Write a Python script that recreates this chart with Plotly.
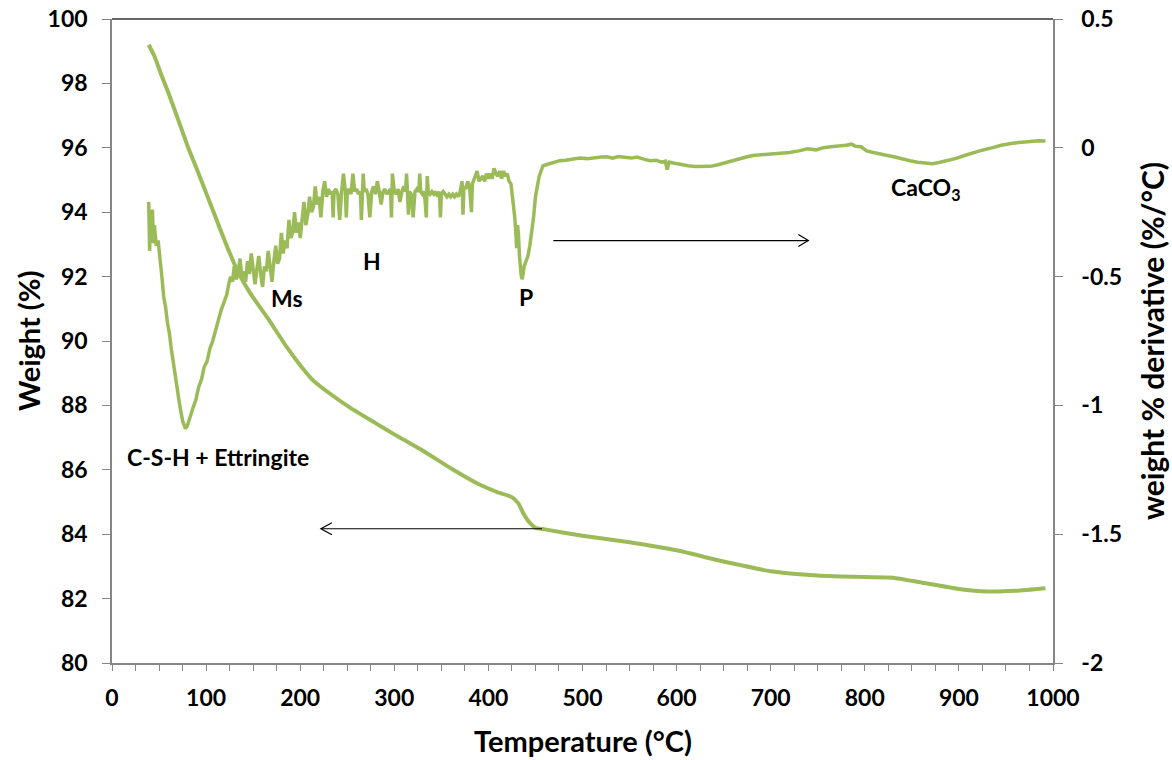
import plotly.graph_objects as go

# Thermogravimetric curve: temperature (°C) vs remaining weight (%)
tg_temp = [39, 45, 52, 60, 70, 81, 90, 100, 110, 120, 133, 147, 165, 186, 200, 214,
           230, 253, 280, 300, 330, 360, 390, 410, 425, 432, 438, 444, 450, 460, 500,
           550, 600, 650, 700, 750, 800, 830, 860, 900, 930, 960, 992]
tg_weight = [99.2, 98.85, 98.3, 97.7, 96.9, 96.0, 95.35, 94.6, 93.85, 93.1, 92.2,
             91.48, 90.73, 89.8, 89.25, 88.77, 88.4, 87.93, 87.45, 87.1, 86.6, 86.05,
             85.55, 85.3, 85.15, 84.95, 84.6, 84.35, 84.2, 84.15, 83.95, 83.75, 83.5,
             83.15, 82.85, 82.72, 82.67, 82.65, 82.5, 82.3, 82.22, 82.24, 82.32]

# Derivative curve: temperature (°C) vs d(weight)/dT (%/°C)
dtg_temp = [39, 40, 41, 42, 43, 44, 45, 47, 49, 51, 53, 55, 57, 59, 61, 63, 66, 69,
            72, 75, 78, 80, 83, 86, 89, 92, 95, 98, 101, 104, 107, 110, 113, 116,
            119, 122,
            124, 126, 128, 130, 132, 134, 136, 138, 140, 142, 144, 146, 148, 150,
            152, 154, 156, 158, 160, 162, 164, 166, 168, 170, 172, 174, 176, 178,
            180, 182, 184, 186, 188, 190, 192, 194, 196, 198, 200, 202, 204, 206,
            208, 210, 212, 214, 216, 218, 220, 222, 224, 226, 228, 230, 232, 234,
            235, 236, 238, 240, 242, 244, 246, 248, 249, 250, 252, 254, 256, 258,
            260, 262, 264, 265, 266, 267, 268, 270, 272, 274, 276, 278, 280, 282,
            284, 286, 288, 290, 292, 294, 296, 297, 298, 300, 302, 304, 306, 308,
            310, 312, 313, 314, 315, 316, 318, 320, 322, 324, 326, 327, 328, 330,
            332, 334, 335, 336, 338, 340, 342, 344, 346, 348, 349, 350, 352, 354,
            356, 358, 360, 362, 364, 366, 368, 370, 372, 373, 374, 376, 378, 380,
            382, 383, 385, 388, 390, 392, 394, 396, 398, 400, 402, 404, 406, 408,
            410, 412, 414, 416, 418, 420, 422, 424, 426,
            428, 429, 430, 431, 432, 433, 434, 435, 436, 437, 438, 440, 442, 444,
            446, 448, 450, 452, 454, 456, 458, 462, 466, 470, 476, 482, 490, 497,
            505, 512, 520, 526, 532, 538, 545, 552, 558, 561, 566, 572, 578, 584,
            588, 590, 592, 598, 605, 612, 620, 628, 636, 644, 650, 656, 662, 668,
            675, 681, 690, 700, 710, 720, 730, 739, 748, 756, 764, 772, 780, 786,
            790, 796, 802, 809, 816, 824, 832, 840, 848, 856, 864, 872, 880, 888,
            898, 906, 914, 922, 933, 945, 957, 968, 978, 985, 992]
dtg_value = [-0.21, -0.40, -0.25, -0.33, -0.24, -0.37, -0.30, -0.38, -0.36, -0.45,
             -0.50, -0.58, -0.62, -0.68, -0.72, -0.78, -0.86, -0.94, -1.00, -1.06,
             -1.09, -1.08, -1.04, -1.01, -0.98, -0.93, -0.90, -0.85, -0.83, -0.78,
             -0.75, -0.71, -0.66, -0.63, -0.60, -0.57,
             -0.53, -0.50, -0.52, -0.46, -0.51, -0.49, -0.43, -0.50, -0.48, -0.52,
             -0.44, -0.49, -0.41, -0.48, -0.53, -0.47, -0.42, -0.49, -0.54, -0.46,
             -0.48, -0.40, -0.47, -0.52, -0.44, -0.38, -0.45, -0.43, -0.33, -0.41,
             -0.36, -0.39, -0.28, -0.35, -0.33, -0.25, -0.33, -0.29, -0.35, -0.28,
             -0.21, -0.30, -0.26, -0.19, -0.25, -0.23, -0.15, -0.22, -0.19, -0.27,
             -0.17, -0.13, -0.19, -0.16, -0.18, -0.17,
             -0.27, -0.17, -0.16, -0.18, -0.28, -0.17, -0.10, -0.17, -0.27, -0.17,
             -0.16, -0.18, -0.10, -0.17, -0.16, -0.18, -0.17, -0.28, -0.17, -0.10,
             -0.17, -0.16, -0.18, -0.27, -0.17, -0.15, -0.18, -0.13, -0.17, -0.22,
             -0.17, -0.16, -0.18, -0.17, -0.16, -0.27, -0.10, -0.17, -0.18, -0.16,
             -0.21, -0.17, -0.15, -0.17, -0.10, -0.17, -0.26, -0.17, -0.18, -0.27,
             -0.17, -0.16, -0.17, -0.10, -0.17, -0.18, -0.17, -0.27, -0.11, -0.17,
             -0.18, -0.17, -0.18, -0.17, -0.19, -0.17, -0.27, -0.18, -0.17, -0.18,
             -0.19, -0.18, -0.19, -0.18, -0.19, -0.18, -0.19, -0.17, -0.13, -0.26,
             -0.15, -0.16, -0.13, -0.15, -0.25, -0.14, -0.12, -0.09, -0.13, -0.12,
             -0.11, -0.13, -0.10, -0.12, -0.10, -0.12, -0.08, -0.10, -0.11, -0.09,
             -0.12, -0.09, -0.11, -0.10, -0.13, -0.14, -0.20,
             -0.27, -0.32, -0.39, -0.30, -0.34, -0.42, -0.47, -0.50, -0.51, -0.48,
             -0.46, -0.44, -0.42, -0.38, -0.33, -0.27, -0.19, -0.14, -0.11, -0.09,
             -0.07, -0.065, -0.06, -0.055, -0.05, -0.048, -0.045, -0.04, -0.042,
             -0.038, -0.036, -0.035, -0.040, -0.034, -0.038, -0.040, -0.036, -0.040,
             -0.045, -0.050, -0.048, -0.056, -0.052, -0.085, -0.055, -0.060, -0.066,
             -0.070, -0.073, -0.074, -0.072, -0.066, -0.060, -0.052, -0.045, -0.040,
             -0.035, -0.030, -0.028, -0.025, -0.022, -0.018, -0.012, -0.004, -0.008,
             0.000, 0.004, 0.006, 0.010, 0.014, 0.006, 0.004, -0.012, -0.018, -0.025,
             -0.030, -0.036, -0.044, -0.050, -0.056, -0.060, -0.062, -0.056, -0.050,
             -0.040, -0.030, -0.020, -0.012, -0.002, 0.010, 0.018, 0.022, 0.025,
             0.027, 0.026]

# Axis ticks
x_ticks = [0, 100, 200, 300, 400, 500, 600, 700, 800, 900, 1000]
y_ticks = [80, 82, 84, 86, 88, 90, 92, 94, 96, 98, 100]
y2_ticks = [-2, -1.5, -1, -0.5, 0, 0.5]
y2_ticktext = ["-2", "-1.5", "-1", "-0.5", "0", "0.5"]

# Peak labels (temperature, weight-axis position, text)
label_temp = [113, 186, 276, 440, 864]
label_weight = [86.4, 91.35, 92.5, 91.38, 94.74]
label_text = ["C-S-H + Ettringite", "Ms", "H", "P", "CaCO<sub>3</sub>"]

# Arrows pointing each curve to its axis
tg_arrow_temp = [457, 222]
tg_arrow_level = 84.17
dtg_arrow_temp = [469, 740]
dtg_arrow_level = -0.36

GREEN = "#9BBB59"
AXIS_GREY = "#868686"
FONT = "Lato"

fig = go.Figure()
fig.add_trace(go.Scatter(x=tg_temp, y=tg_weight, mode="lines",
                         line=dict(color=GREEN, width=4, shape="spline", smoothing=0.5),
                         yaxis="y", showlegend=False))
fig.add_trace(go.Scatter(x=dtg_temp, y=dtg_value, mode="lines",
                         line=dict(color=GREEN, width=3.5),
                         yaxis="y2", showlegend=False))

for t, w, s in zip(label_temp, label_weight, label_text):
    fig.add_annotation(x=t, y=w, xref="x", yref="y", text=s, showarrow=False,
                       font=dict(family=FONT, size=23, color="black", weight="bold"))

# axis titles
title_font = dict(family=FONT, size=29, color="black", weight="bold")
fig.add_annotation(x=0, y=0.5, xref="paper", yref="paper", xshift=-84,
                   xanchor="center", yanchor="middle",
                   text="Weight (%)", textangle=-90, showarrow=False, font=title_font)
fig.add_annotation(x=1, y=0.5, xref="paper", yref="paper", xshift=99,
                   xanchor="center", yanchor="middle",
                   text="weight % derivative (%/°C)", textangle=-90, showarrow=False,
                   font=dict(family=FONT, size=30, color="black", weight="bold"))
fig.add_annotation(x=0.5, y=0, xref="paper", yref="paper", yshift=-77,
                   xanchor="center", yanchor="middle",
                   text="Temperature (°C)", showarrow=False, font=title_font)

shapes = []
# arrow shafts
shapes.append(dict(type="line", xref="x", yref="y",
                   x0=tg_arrow_temp[0], x1=tg_arrow_temp[1],
                   y0=tg_arrow_level, y1=tg_arrow_level,
                   line=dict(color="black", width=1.2)))
shapes.append(dict(type="line", xref="x", yref="y2",
                   x0=dtg_arrow_temp[0], x1=dtg_arrow_temp[1],
                   y0=dtg_arrow_level, y1=dtg_arrow_level,
                   line=dict(color="black", width=1.2)))
# open chevron heads
shapes.append(dict(type="path", xref="x", yref="y", xsizemode="pixel", ysizemode="pixel",
                   xanchor=tg_arrow_temp[1], yanchor=tg_arrow_level,
                   path="M 11,6 L 0,0 L 11,-6", line=dict(color="black", width=1.2)))
shapes.append(dict(type="path", xref="x", yref="y2", xsizemode="pixel", ysizemode="pixel",
                   xanchor=dtg_arrow_temp[1], yanchor=dtg_arrow_level,
                   path="M -10,6 L 0,0 L -10,-6", line=dict(color="black", width=1.2)))
# top frame line
shapes.append(dict(type="line", xref="paper", yref="paper", x0=0, x1=1, y0=1, y1=1,
                   line=dict(color="#333333", width=1.5)))

tickfont = dict(family=FONT, size=23, color="black", weight="bold")

fig.update_layout(
    width=1172, height=760,
    margin=dict(l=112, r=119, t=19, b=97),
    paper_bgcolor="white", plot_bgcolor="white",
    shapes=shapes,
    xaxis=dict(range=[0, 1000], tickvals=x_ticks, ticks="outside", ticklen=6,
               tickcolor=AXIS_GREY, showline=True, linecolor=AXIS_GREY, linewidth=1.5,
               showgrid=False, zeroline=False, tickfont=tickfont, automargin=False,
               ticklabelstandoff=8,
               minor=dict(dtick=25, ticks="outside", ticklen=6, tickcolor=AXIS_GREY)),
    yaxis=dict(range=[80, 100], tickvals=y_ticks, ticks="outside", ticklen=8,
               tickcolor=AXIS_GREY, showline=True, linecolor=AXIS_GREY, linewidth=1.5,
               showgrid=False, zeroline=False, tickfont=tickfont, automargin=False,
               ticklabelstandoff=10),
    yaxis2=dict(range=[-2, 0.5], overlaying="y", side="right", tickvals=y2_ticks,
                ticktext=y2_ticktext, ticks="outside", ticklen=8,
                tickcolor=AXIS_GREY, showline=True, linecolor=AXIS_GREY, linewidth=1.5,
                showgrid=False, zeroline=False, tickfont=tickfont, automargin=False,
                ticklabelstandoff=14),
)

fig.write_html("out.html")
